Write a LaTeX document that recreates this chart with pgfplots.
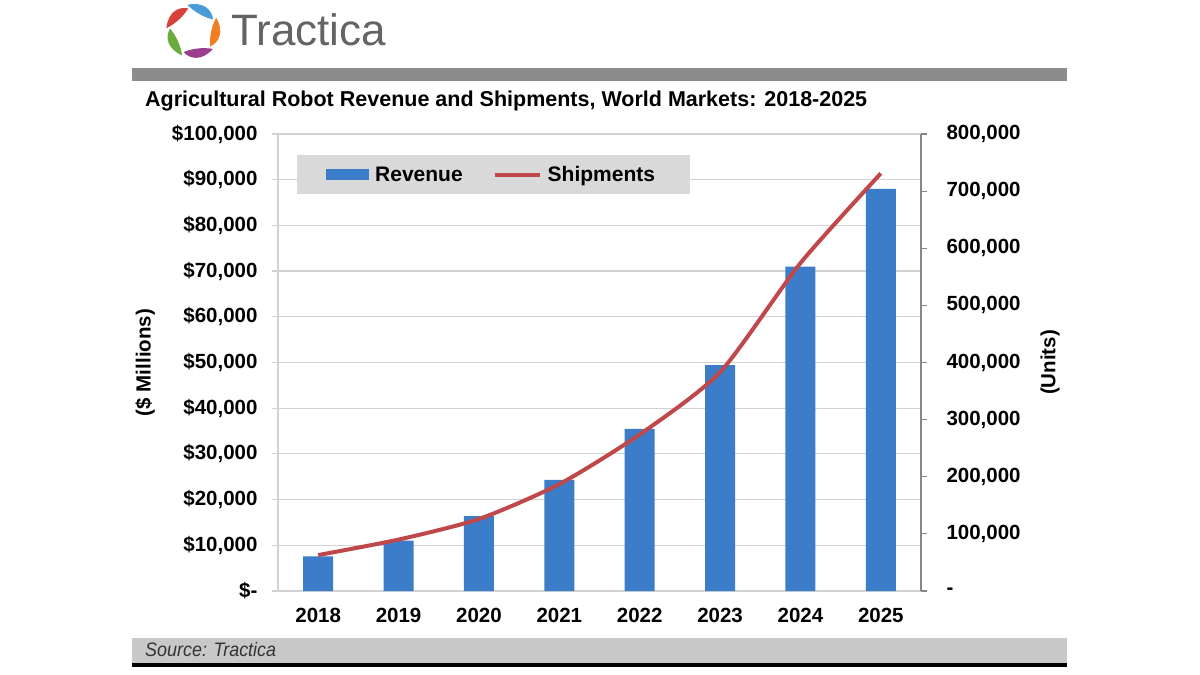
\documentclass[border=0pt]{standalone}
\usepackage{fontspec}
\setmainfont{Liberation Sans}
\newfontfamily\srcfont[FakeStretch=0.92]{Liberation Sans}
\usepackage{pgfplots}
\pgfplotsset{compat=1.18}
\definecolor{barblue}{RGB}{59,125,200}
\definecolor{linered}{RGB}{192,72,75}
\definecolor{gridgray}{RGB}{210,210,210}
\definecolor{axgray}{RGB}{134,134,134}
\definecolor{leggray}{RGB}{217,217,217}
\definecolor{headgray}{RGB}{140,140,140}
\definecolor{srcgray}{RGB}{200,200,200}
\definecolor{logotext}{RGB}{100,100,100}
\pgfplotstableread{
x rev ship
0 7600 62900
1 11000 90000
2 16400 126000
3 24300 187000
4 35500 274000
5 49400 383000
6 71000 574000
7 88000 731000
}\datatbl
\newcommand{\tickfont}{\bfseries\fontsize{20.5}{24}\selectfont}
\begin{document}
\begin{tikzpicture}
\fill[white] (0pt,0pt) rectangle (1200pt,675pt);
% header logo
\foreach \ang/\r/\g/\b in {141/216/65/58, 69/74/155/214, -3/240/127/34, -75/155/60/142, -147/106/171/62}{
  \definecolor{pc}{RGB}{\r,\g,\b}
  \begin{scope}[shift={(193pt,644pt)}, rotate=\ang, scale=1.12]
    \fill[pc] (16pt,-13pt) .. controls (24pt,-9pt) and (28pt,1pt) .. (20pt,13pt)
      .. controls (16pt,4pt) and (15pt,-5pt) .. cycle;
  \end{scope}
}
\node[anchor=base west, inner sep=0pt, text=logotext, font=\fontsize{44}{50}\selectfont] at (231pt,629pt) {Tractica};
\fill[headgray] (132pt,594pt) rectangle (1067pt,607pt);
\node[anchor=base west, inner sep=0pt, font=\bfseries\fontsize{21.5}{25}\selectfont] at (145pt,568pt) {Agricultural Robot Revenue and Shipments, World Markets: 2018-2025};
% source bar
\fill[srcgray] (132pt,12pt) rectangle (1067pt,37pt);
\fill[black] (132pt,8pt) rectangle (1067pt,12pt);
\node[anchor=base west, inner sep=0pt, text=black!80, font=\srcfont\itshape\fontsize{19.5}{22}\selectfont] at (145pt,18pt) {Source: Tractica};
% bars
\begin{axis}[
  at={(278pt,84pt)}, anchor=south west,
  scale only axis, width=643pt, height=457pt,
  xmin=-0.5, xmax=7.5, ymin=0, ymax=100000,
  scaled y ticks=false,
  axis y line*=left, axis x line*=bottom,
  axis line style={draw=gridgray, line width=1.2pt},
  xtick={0,...,7}, xticklabels={2018,2019,2020,2021,2022,2023,2024,2025},
  x tick style={draw=none},
  xticklabel style={font=\tickfont, yshift=-8pt},
  ytick={0,10000,...,100000},
  yticklabels={\$-,\$10{,}000,\$20{,}000,\$30{,}000,\$40{,}000,\$50{,}000,\$60{,}000,\$70{,}000,\$80{,}000,\$90{,}000,\$100{,}000},
  yticklabel style={font=\tickfont, xshift=-11pt},
  y tick style={draw=gridgray, line width=1.2pt},
  tick align=outside, major tick length=6pt,
  ymajorgrids, major grid style={draw=gridgray, line width=1.2pt},
  ylabel={(\$ Millions)},
  ylabel style={font=\tickfont, at={(axis description cs:-0.2068,0.5)}, anchor=center, rotate=0},
  legend columns=2,
  legend style={at={(rel axis cs:0.0295,0.954)}, anchor=north west,
    fill=leggray, draw=none, inner xsep=29pt, inner ysep=8pt,
    font=\bfseries\fontsize{21}{25}\selectfont,
    nodes={inner xsep=6pt, inner ysep=3pt},
    /tikz/every even column/.append style={column sep=24pt}},
  legend cell align=left,
]
\addplot[ybar, bar width=30pt, fill=barblue, draw=none,
  legend image code/.code={\fill[barblue] (0pt,-5.5pt) rectangle (43pt,5.5pt);}]
  table[x=x, y=rev] {\datatbl};
\addlegendentry{Revenue}
\addlegendimage{legend image code/.code={\draw[linered, line width=4pt] (0pt,0pt) -- (45pt,0pt);}}
\addlegendentry{Shipments}
\end{axis}
% line
\begin{axis}[
  at={(278pt,84pt)}, anchor=south west,
  scale only axis, width=643pt, height=457pt,
  xmin=-0.5, xmax=7.5, ymin=0, ymax=800000,
  scaled y ticks=false,
  axis y line*=right, axis x line=none,
  axis line style={draw=axgray, line width=1.2pt},
  ytick={0,100000,...,800000},
  yticklabels={-,100{,}000,200{,}000,300{,}000,400{,}000,500{,}000,600{,}000,700{,}000,800{,}000},
  yticklabel style={font=\tickfont, xshift=16pt},
  y tick style={draw=axgray, line width=1.2pt},
  tick align=outside, major tick length=6pt,
  ylabel={(Units)},
  ylabel style={font=\tickfont, at={(axis description cs:1.2006,0.5)}, anchor=center, rotate=0},
]
\addplot[linered, line width=4pt, smooth, tension=0.4] table[x=x, y=ship] {\datatbl};
\end{axis}
\end{tikzpicture}
\end{document}
